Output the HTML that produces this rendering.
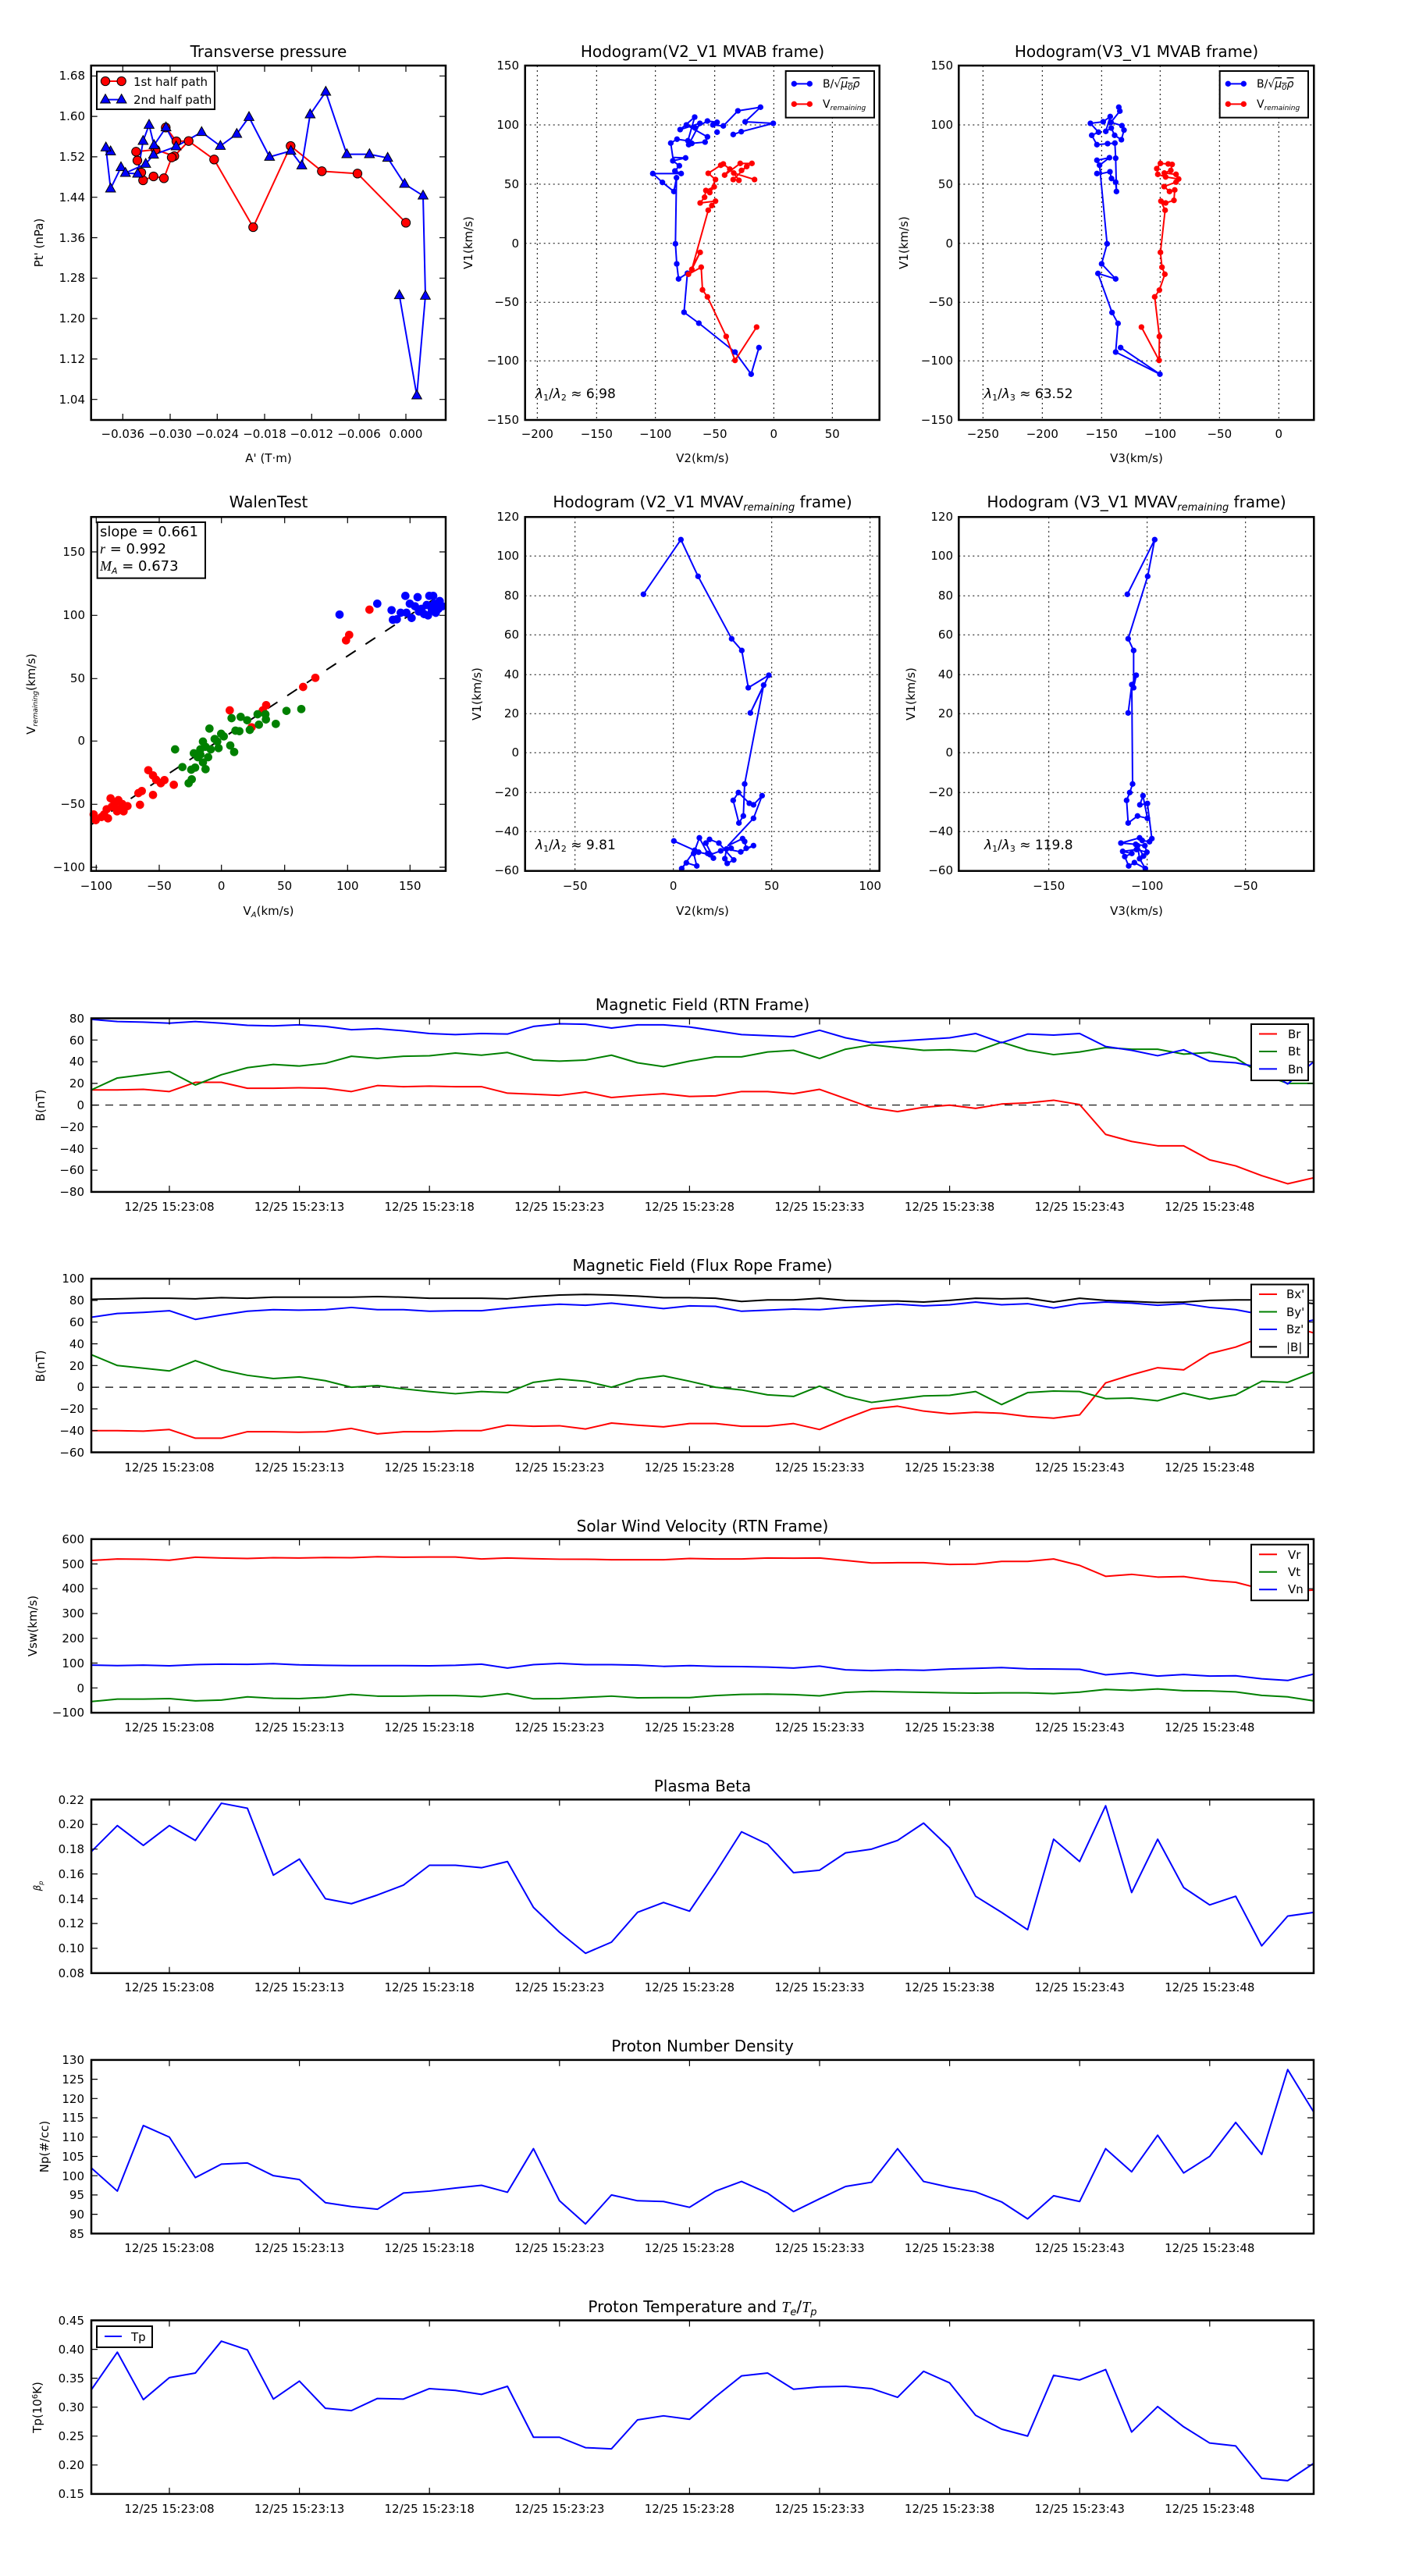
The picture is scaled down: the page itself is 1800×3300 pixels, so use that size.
<!DOCTYPE html>
<html><head><meta charset="utf-8"><style>
html,body{margin:0;padding:0;background:#fff}
svg{display:block}
text{font-family:"DejaVu Sans","Liberation Sans",sans-serif;fill:#000}
.t{font-size:20px;text-anchor:middle}
.k{font-size:15px}
.kx{font-size:15px;text-anchor:middle}
.ky{font-size:15px;text-anchor:end}
.l{font-size:15px;text-anchor:middle}
.ax{fill:none;stroke:#000;stroke-width:2.5}
.tk{fill:none;stroke:#000;stroke-width:1.2}
.gd{fill:none;stroke:#000;stroke-width:1;stroke-dasharray:2,4}
.s{fill:none;stroke-width:2;vector-effect:non-scaling-stroke;stroke-linejoin:round}
.z{fill:none;stroke-width:6;stroke-linejoin:round}
</style></head><body>
<svg width="1800" height="3300" viewBox="0 0 1800 3300" xmlns="http://www.w3.org/2000/svg">
<defs>
<path id="tri" d="M0,-21 L19,13 L-19,13Z" fill="#0000ff" stroke="#000" stroke-width="3"/>
</defs>
<rect width="1800" height="3300" fill="#fff"/>

<!-- ============ Panel 1: Transverse pressure ============ -->
<text class="t" x="344" y="73">Transverse pressure</text>
<g transform="translate(110,60) scale(0.33333)">
<polyline class="z" stroke="#ff0000" points="307,310 348,363 395,362 340,420 330,425 300,505 260,498 220,513 213,483 198,437 193,403 268,395 340,420"/>
<polyline class="z" stroke="#ff0000" points="395,362 493,433 643,693 787,381 907,478 1044,487 1230,676"/>
<polyline class="z" stroke="#0000ff" points="95,402 77,387 95,545 135,463 152,485 199,488 220,362 243,300 262,378 308,310 347,383 445,328 517,381 580,335 627,270 706,423 788,400 830,456 862,260 922,173 1003,413 1090,413 1160,427 1225,527 1296,572 1305,957 1272,1340 1205,955"/>
<polyline class="z" stroke="#0000ff" points="152,485 230,450 260,415 347,383"/>
<g fill="#ff0000" stroke="#000" stroke-width="3">
<circle cx="307" cy="310" r="17"/><circle cx="348" cy="363" r="17"/><circle cx="340" cy="420" r="17"/><circle cx="330" cy="425" r="17"/><circle cx="300" cy="505" r="17"/><circle cx="260" cy="498" r="17"/><circle cx="220" cy="513" r="17"/><circle cx="213" cy="483" r="17"/><circle cx="198" cy="437" r="17"/><circle cx="193" cy="403" r="17"/><circle cx="268" cy="395" r="17"/><circle cx="395" cy="362" r="17"/><circle cx="493" cy="433" r="17"/><circle cx="643" cy="693" r="17"/><circle cx="787" cy="381" r="17"/><circle cx="907" cy="478" r="17"/><circle cx="1044" cy="487" r="17"/><circle cx="1230" cy="676" r="17"/>
</g>
<use href="#tri" x="95" y="402"/><use href="#tri" x="77" y="387"/><use href="#tri" x="95" y="545"/><use href="#tri" x="135" y="463"/><use href="#tri" x="152" y="485"/><use href="#tri" x="199" y="488"/><use href="#tri" x="220" y="362"/><use href="#tri" x="243" y="300"/><use href="#tri" x="262" y="378"/><use href="#tri" x="308" y="310"/><use href="#tri" x="230" y="450"/><use href="#tri" x="260" y="415"/><use href="#tri" x="347" y="383"/><use href="#tri" x="445" y="328"/><use href="#tri" x="517" y="381"/><use href="#tri" x="580" y="335"/><use href="#tri" x="627" y="270"/><use href="#tri" x="706" y="423"/><use href="#tri" x="788" y="400"/><use href="#tri" x="830" y="456"/><use href="#tri" x="862" y="260"/><use href="#tri" x="922" y="173"/><use href="#tri" x="1003" y="413"/><use href="#tri" x="1090" y="413"/><use href="#tri" x="1160" y="427"/><use href="#tri" x="1225" y="527"/><use href="#tri" x="1296" y="572"/><use href="#tri" x="1305" y="957"/><use href="#tri" x="1272" y="1340"/><use href="#tri" x="1205" y="955"/>
<rect x="42" y="95" width="453" height="145" fill="#fff" stroke="#000" stroke-width="6"/>
<line x1="75" y1="132" x2="137" y2="132" stroke="#ff0000" stroke-width="6"/>
<circle cx="75" cy="132" r="17" fill="#ff0000" stroke="#000" stroke-width="3"/><circle cx="137" cy="132" r="17" fill="#ff0000" stroke="#000" stroke-width="3"/>
<line x1="75" y1="203" x2="137" y2="203" stroke="#0000ff" stroke-width="6"/>
<use href="#tri" x="75" y="203"/><use href="#tri" x="137" y="203"/>
</g>
<text x="171" y="110" style="font-size:15px">1st half path</text>
<text x="171" y="133" style="font-size:15px">2nd half path</text>
<rect class="ax" x="116.7" y="84" width="454.3" height="454"/>
<path class="tk" d="M157.3,538v-8M218,538v-8M278.3,538v-8M339,538v-8M399.3,538v-8M460,538v-8M520,538v-8M157.3,84v8M218,84v8M278.3,84v8M339,84v8M399.3,84v8M460,84v8M520,84v8M116.7,97.3h8M116.7,149.1h8M116.7,200.9h8M116.7,252.7h8M116.7,304.5h8M116.7,356.3h8M116.7,408.1h8M116.7,459.9h8M116.7,511.7h8M571,97.3h-8M571,149.1h-8M571,200.9h-8M571,252.7h-8M571,304.5h-8M571,356.3h-8M571,408.1h-8M571,459.9h-8M571,511.7h-8"/>
<g class="ky"><text class="ky" x="109" y="102">1.68</text><text class="ky" x="109" y="154">1.60</text><text class="ky" x="109" y="206">1.52</text><text class="ky" x="109" y="258">1.44</text><text class="ky" x="109" y="310">1.36</text><text class="ky" x="109" y="361">1.28</text><text class="ky" x="109" y="413">1.20</text><text class="ky" x="109" y="465">1.12</text><text class="ky" x="109" y="517">1.04</text></g>
<text class="kx" x="157.3" y="561">−0.036</text><text class="kx" x="218" y="561">−0.030</text><text class="kx" x="278.3" y="561">−0.024</text><text class="kx" x="339" y="561">−0.018</text><text class="kx" x="399.3" y="561">−0.012</text><text class="kx" x="460" y="561">−0.006</text><text class="kx" x="520" y="561">0.000</text>
<text class="l" x="344" y="592">A' (T·m)</text>
<text class="l" transform="translate(55,311) rotate(-90)">Pt' (nPa)</text>

<!-- ============ Panel 2: Hodogram V2_V1 MVAB ============ -->
<text class="t" x="900" y="73">Hodogram(V2_V1 MVAB frame)</text>
<path class="gd" d="M688.3,84V538M764.3,84V538M839.7,84V538M915.7,84V538M991.3,84V538M1066.3,84V538M672.7,160H1126.7M672.7,236H1126.7M672.7,311.7H1126.7M672.7,387.3H1126.7M672.7,462.3H1126.7"/>
<g transform="translate(660,60) scale(0.33333)">
<polyline class="z" stroke="#0000ff" points="937,1156 907,1258 845,1173 706,1062 649,1020 662,870 628,892 621,834 616,757 620,503 610,556 566,521 529,487 638,487 614,477 631,457 606,438 655,427 606,425 598,370 622,355 664,361 690,270 634,318 710,294 667,376 679,371 730,366 739,346 658,300 692,312 739,285 776,290 760,300 800,304 856,246 943,232 884,288 992,294 869,326 838,337"/>
<polyline class="z" stroke="#ff0000" points="928,1077 845,1205 811,1113 739,961 720,934 715,847 666,874 711,790 679,855 742,628 756,610 770,593 711,600 728,578 733,552 765,538 748,560 770,510 742,486 790,455 800,450 825,470 805,493 865,448 910,448 870,475 890,460 838,510 860,513 840,485 920,510"/>
<g fill="#0000ff"><circle cx="937" cy="1156" r="11"/><circle cx="907" cy="1258" r="11"/><circle cx="845" cy="1173" r="11"/><circle cx="706" cy="1062" r="11"/><circle cx="649" cy="1020" r="11"/><circle cx="662" cy="870" r="11"/><circle cx="628" cy="892" r="11"/><circle cx="621" cy="834" r="11"/><circle cx="616" cy="757" r="11"/><circle cx="620" cy="503" r="11"/><circle cx="610" cy="556" r="11"/><circle cx="566" cy="521" r="11"/><circle cx="529" cy="487" r="11"/><circle cx="638" cy="487" r="11"/><circle cx="614" cy="477" r="11"/><circle cx="631" cy="457" r="11"/><circle cx="606" cy="438" r="11"/><circle cx="655" cy="427" r="11"/><circle cx="598" cy="370" r="11"/><circle cx="622" cy="355" r="11"/><circle cx="664" cy="361" r="11"/><circle cx="690" cy="270" r="11"/><circle cx="634" cy="318" r="11"/><circle cx="710" cy="294" r="11"/><circle cx="667" cy="376" r="11"/><circle cx="679" cy="371" r="11"/><circle cx="730" cy="366" r="11"/><circle cx="739" cy="346" r="11"/><circle cx="658" cy="300" r="11"/><circle cx="692" cy="312" r="11"/><circle cx="739" cy="285" r="11"/><circle cx="776" cy="290" r="11"/><circle cx="760" cy="300" r="11"/><circle cx="800" cy="304" r="11"/><circle cx="856" cy="246" r="11"/><circle cx="943" cy="232" r="11"/><circle cx="884" cy="288" r="11"/><circle cx="992" cy="294" r="11"/><circle cx="869" cy="326" r="11"/><circle cx="838" cy="337" r="11"/><circle cx="776" cy="328" r="11"/></g>
<g fill="#ff0000"><circle cx="928" cy="1077" r="11"/><circle cx="845" cy="1205" r="11"/><circle cx="811" cy="1113" r="11"/><circle cx="739" cy="961" r="11"/><circle cx="720" cy="934" r="11"/><circle cx="715" cy="847" r="11"/><circle cx="666" cy="874" r="11"/><circle cx="711" cy="790" r="11"/><circle cx="679" cy="855" r="11"/><circle cx="742" cy="628" r="11"/><circle cx="756" cy="610" r="11"/><circle cx="770" cy="593" r="11"/><circle cx="711" cy="600" r="11"/><circle cx="728" cy="578" r="11"/><circle cx="733" cy="552" r="11"/><circle cx="765" cy="538" r="11"/><circle cx="748" cy="560" r="11"/><circle cx="770" cy="510" r="11"/><circle cx="742" cy="486" r="11"/><circle cx="790" cy="455" r="11"/><circle cx="800" cy="450" r="11"/><circle cx="825" cy="470" r="11"/><circle cx="805" cy="493" r="11"/><circle cx="865" cy="448" r="11"/><circle cx="910" cy="448" r="11"/><circle cx="870" cy="475" r="11"/><circle cx="890" cy="460" r="11"/><circle cx="838" cy="510" r="11"/><circle cx="860" cy="513" r="11"/><circle cx="840" cy="485" r="11"/><circle cx="920" cy="510" r="11"/></g>
<rect x="1040" y="93" width="340" height="179" fill="#fff" stroke="#000" stroke-width="6"/>
<line x1="1072" y1="142" x2="1132" y2="142" stroke="#0000ff" stroke-width="6"/><circle cx="1072" cy="142" r="11" fill="#0000ff"/><circle cx="1132" cy="142" r="11" fill="#0000ff"/>
<line x1="1072" y1="220" x2="1132" y2="220" stroke="#ff0000" stroke-width="6"/><circle cx="1072" cy="220" r="11" fill="#ff0000"/><circle cx="1132" cy="220" r="11" fill="#ff0000"/>
</g>
<text x="1054" y="112" style="font-size:14px">B/√<tspan font-style="italic" text-decoration="overline">μ<tspan font-size="10" dy="3">0</tspan><tspan dy="-3">ρ</tspan></tspan></text>
<text x="1054" y="138" style="font-size:14px">V<tspan font-size="9" font-style="italic" dy="3">remaining</tspan></text>
<text x="686" y="510" style="font-size:17px"><tspan font-style="italic">λ</tspan><tspan font-size="11" dy="3">1</tspan><tspan dy="-3">/</tspan><tspan font-style="italic">λ</tspan><tspan font-size="11" dy="3">2</tspan><tspan dy="-3"> ≈ 6.98</tspan></text>
<rect class="ax" x="672.7" y="84" width="454" height="454"/>
<g><text class="ky" x="665" y="89">150</text><text class="ky" x="665" y="165">100</text><text class="ky" x="665" y="241">50</text><text class="ky" x="665" y="317">0</text><text class="ky" x="665" y="392">−50</text><text class="ky" x="665" y="467">−100</text><text class="ky" x="665" y="543">−150</text></g>
<text class="kx" x="688.3" y="561">−200</text><text class="kx" x="764.3" y="561">−150</text><text class="kx" x="839.7" y="561">−100</text><text class="kx" x="915.7" y="561">−50</text><text class="kx" x="991.3" y="561">0</text><text class="kx" x="1066.3" y="561">50</text>
<text class="l" x="900" y="592">V2(km/s)</text>
<text class="l" transform="translate(605,311) rotate(-90)">V1(km/s)</text>

<!-- ============ Panel 3: Hodogram V3_V1 MVAB ============ -->
<text class="t" x="1456" y="73">Hodogram(V3_V1 MVAB frame)</text>
<path class="gd" d="M1259.3,84V538M1335.3,84V538M1411.3,84V538M1486.3,84V538M1562.3,84V538M1638.3,84V538M1228.3,160H1683.3M1228.3,236H1683.3M1228.3,311.7H1683.3M1228.3,387.3H1683.3M1228.3,462.3H1683.3"/>
<g transform="translate(1220,60) scale(0.33333)">
<polyline class="z" stroke="#0000ff" points="647,1156 798,1258 628,1173 637,1063 614,1021 560,871 628,892 574,834 595,757 566,455 604,426 556,436 574,487 606,480 612,506 628,520 631,556 628,428 625,370 597,372 556,376 536,340 562,328 531,294 580,288 607,268 590,325 611,312 624,340 650,357 660,320 652,303 610,290 644,247 640,232"/>
<polyline class="z" stroke="#ff0000" points="727,1077 795,1205 796,1113 778,961 796,935 817,874 806,847 800,790 818,628 802,593 820,600 852,590 855,550 835,556 814,537 860,520 870,508 820,500 790,490 786,468 800,448 830,450 845,452 840,475 815,485 860,490"/>
<g fill="#0000ff"><circle cx="647" cy="1156" r="11"/><circle cx="798" cy="1258" r="11"/><circle cx="628" cy="1173" r="11"/><circle cx="637" cy="1063" r="11"/><circle cx="614" cy="1021" r="11"/><circle cx="560" cy="871" r="11"/><circle cx="628" cy="892" r="11"/><circle cx="574" cy="834" r="11"/><circle cx="595" cy="757" r="11"/><circle cx="566" cy="455" r="11"/><circle cx="604" cy="426" r="11"/><circle cx="556" cy="436" r="11"/><circle cx="556" cy="487" r="11"/><circle cx="606" cy="480" r="11"/><circle cx="612" cy="506" r="11"/><circle cx="628" cy="520" r="11"/><circle cx="631" cy="556" r="11"/><circle cx="628" cy="428" r="11"/><circle cx="625" cy="370" r="11"/><circle cx="597" cy="372" r="11"/><circle cx="556" cy="376" r="11"/><circle cx="536" cy="340" r="11"/><circle cx="562" cy="328" r="11"/><circle cx="531" cy="294" r="11"/><circle cx="580" cy="288" r="11"/><circle cx="607" cy="268" r="11"/><circle cx="590" cy="325" r="11"/><circle cx="611" cy="312" r="11"/><circle cx="624" cy="340" r="11"/><circle cx="650" cy="357" r="11"/><circle cx="660" cy="320" r="11"/><circle cx="652" cy="303" r="11"/><circle cx="610" cy="290" r="11"/><circle cx="644" cy="247" r="11"/><circle cx="640" cy="232" r="11"/></g>
<g fill="#ff0000"><circle cx="727" cy="1077" r="11"/><circle cx="795" cy="1205" r="11"/><circle cx="796" cy="1113" r="11"/><circle cx="778" cy="961" r="11"/><circle cx="796" cy="935" r="11"/><circle cx="817" cy="874" r="11"/><circle cx="806" cy="847" r="11"/><circle cx="800" cy="790" r="11"/><circle cx="818" cy="628" r="11"/><circle cx="802" cy="593" r="11"/><circle cx="820" cy="600" r="11"/><circle cx="852" cy="590" r="11"/><circle cx="855" cy="550" r="11"/><circle cx="835" cy="556" r="11"/><circle cx="814" cy="537" r="11"/><circle cx="860" cy="520" r="11"/><circle cx="870" cy="508" r="11"/><circle cx="820" cy="500" r="11"/><circle cx="790" cy="490" r="11"/><circle cx="786" cy="468" r="11"/><circle cx="800" cy="448" r="11"/><circle cx="830" cy="450" r="11"/><circle cx="845" cy="452" r="11"/><circle cx="840" cy="475" r="11"/><circle cx="815" cy="485" r="11"/><circle cx="860" cy="490" r="11"/></g>
<rect x="1028" y="93" width="340" height="179" fill="#fff" stroke="#000" stroke-width="6"/>
<line x1="1060" y1="142" x2="1120" y2="142" stroke="#0000ff" stroke-width="6"/><circle cx="1060" cy="142" r="11" fill="#0000ff"/><circle cx="1120" cy="142" r="11" fill="#0000ff"/>
<line x1="1060" y1="220" x2="1120" y2="220" stroke="#ff0000" stroke-width="6"/><circle cx="1060" cy="220" r="11" fill="#ff0000"/><circle cx="1120" cy="220" r="11" fill="#ff0000"/>
</g>
<text x="1610" y="112" style="font-size:14px">B/√<tspan font-style="italic" text-decoration="overline">μ<tspan font-size="10" dy="3">0</tspan><tspan dy="-3">ρ</tspan></tspan></text>
<text x="1610" y="138" style="font-size:14px">V<tspan font-size="9" font-style="italic" dy="3">remaining</tspan></text>
<text x="1261" y="510" style="font-size:17px"><tspan font-style="italic">λ</tspan><tspan font-size="11" dy="3">1</tspan><tspan dy="-3">/</tspan><tspan font-style="italic">λ</tspan><tspan font-size="11" dy="3">3</tspan><tspan dy="-3"> ≈ 63.52</tspan></text>
<rect class="ax" x="1228.3" y="84" width="455" height="454"/>
<g><text class="ky" x="1221" y="89">150</text><text class="ky" x="1221" y="165">100</text><text class="ky" x="1221" y="241">50</text><text class="ky" x="1221" y="317">0</text><text class="ky" x="1221" y="392">−50</text><text class="ky" x="1221" y="467">−100</text><text class="ky" x="1221" y="543">−150</text></g>
<text class="kx" x="1259.3" y="561">−250</text><text class="kx" x="1335.3" y="561">−200</text><text class="kx" x="1411.3" y="561">−150</text><text class="kx" x="1486.3" y="561">−100</text><text class="kx" x="1562.3" y="561">−50</text><text class="kx" x="1638.3" y="561">0</text>
<text class="l" x="1456" y="592">V3(km/s)</text>
<text class="l" transform="translate(1163,311) rotate(-90)">V1(km/s)</text>

<!-- ============ Panel 4: WalenTest ============ -->
<text class="t" x="344" y="650">WalenTest</text>
<g transform="translate(110,650) scale(0.33333)">
<line x1="22" y1="1218" x2="1365" y2="335" stroke="#000" stroke-width="6" stroke-dasharray="45,45"/>
<g fill="#0000ff"><circle cx="975" cy="412" r="16"/><circle cx="1120" cy="370" r="16"/><circle cx="1175" cy="395" r="16"/><circle cx="1228" cy="340" r="16"/><circle cx="1245" cy="370" r="16"/><circle cx="1275" cy="345" r="16"/><circle cx="1210" cy="405" r="16"/><circle cx="1232" cy="405" r="16"/><circle cx="1180" cy="432" r="16"/><circle cx="1252" cy="425" r="16"/><circle cx="1265" cy="380" r="16"/><circle cx="1290" cy="390" r="16"/><circle cx="1300" cy="410" r="16"/><circle cx="1315" cy="415" r="16"/><circle cx="1320" cy="340" r="16"/><circle cx="1335" cy="340" r="16"/><circle cx="1345" cy="405" r="16"/><circle cx="1360" cy="360" r="16"/><circle cx="1370" cy="380" r="16"/><circle cx="1355" cy="390" r="16"/><circle cx="1330" cy="395" r="16"/><circle cx="1310" cy="375" r="16"/><circle cx="1280" cy="400" r="16"/><circle cx="1195" cy="430" r="16"/><circle cx="1325" cy="380" r="16"/><circle cx="1340" cy="370" r="16"/></g>
<g fill="#ff0000"><circle cx="1090" cy="393" r="16"/><circle cx="1000" cy="511" r="16"/><circle cx="1012" cy="490" r="16"/><circle cx="882" cy="655" r="16"/><circle cx="835" cy="690" r="16"/><circle cx="693" cy="760" r="16"/><circle cx="553" cy="780" r="16"/><circle cx="680" cy="780" r="16"/><circle cx="637" cy="845" r="16"/><circle cx="240" cy="1010" r="16"/><circle cx="258" cy="1030" r="16"/><circle cx="270" cy="1047" r="16"/><circle cx="288" cy="1060" r="16"/><circle cx="302" cy="1048" r="16"/><circle cx="338" cy="1066" r="16"/><circle cx="202" cy="1098" r="16"/><circle cx="215" cy="1090" r="16"/><circle cx="258" cy="1105" r="16"/><circle cx="208" cy="1143" r="16"/><circle cx="95" cy="1118" r="16"/><circle cx="125" cy="1125" r="16"/><circle cx="140" cy="1140" r="16"/><circle cx="160" cy="1148" r="16"/><circle cx="145" cy="1168" r="16"/><circle cx="120" cy="1168" r="16"/><circle cx="100" cy="1150" r="16"/><circle cx="80" cy="1160" r="16"/><circle cx="70" cy="1180" r="16"/><circle cx="85" cy="1195" r="16"/><circle cx="60" cy="1190" r="16"/><circle cx="30" cy="1180" r="16"/><circle cx="38" cy="1202" r="16"/><circle cx="110" cy="1140" r="16"/><circle cx="130" cy="1160" r="16"/></g>
<g fill="#008000"><circle cx="343" cy="930" r="16"/><circle cx="371" cy="998" r="16"/><circle cx="395" cy="1060" r="16"/><circle cx="407" cy="1045" r="16"/><circle cx="405" cy="1008" r="16"/><circle cx="420" cy="1000" r="16"/><circle cx="415" cy="945" r="16"/><circle cx="440" cy="930" r="16"/><circle cx="450" cy="900" r="16"/><circle cx="475" cy="850" r="16"/><circle cx="460" cy="1006" r="16"/><circle cx="450" cy="980" r="16"/><circle cx="430" cy="960" r="16"/><circle cx="470" cy="960" r="16"/><circle cx="480" cy="930" r="16"/><circle cx="495" cy="890" r="16"/><circle cx="510" cy="925" r="16"/><circle cx="520" cy="870" r="16"/><circle cx="530" cy="880" r="16"/><circle cx="555" cy="915" r="16"/><circle cx="570" cy="940" r="16"/><circle cx="560" cy="810" r="16"/><circle cx="595" cy="805" r="16"/><circle cx="620" cy="818" r="16"/><circle cx="575" cy="858" r="16"/><circle cx="590" cy="860" r="16"/><circle cx="630" cy="855" r="16"/><circle cx="660" cy="795" r="16"/><circle cx="665" cy="835" r="16"/><circle cx="690" cy="795" r="16"/><circle cx="692" cy="815" r="16"/><circle cx="730" cy="832" r="16"/><circle cx="771" cy="782" r="16"/><circle cx="828" cy="775" r="16"/><circle cx="505" cy="900" r="16"/><circle cx="440" cy="950" r="16"/><circle cx="460" cy="920" r="16"/></g>
<rect x="44" y="57" width="415" height="215" fill="#fff" stroke="#000" stroke-width="6"/>
</g>
<text x="128" y="687" style="font-size:18px">slope = 0.661</text>
<text x="128" y="709" style="font-size:18px"><tspan font-style="italic" font-family="Liberation Serif">r</tspan> = 0.992</text>
<text x="128" y="731" style="font-size:18px"><tspan font-style="italic" font-family="Liberation Serif">M</tspan><tspan font-size="11" font-style="italic" dy="4">A</tspan><tspan dy="-4"> = 0.673</tspan></text>
<rect class="ax" x="116.7" y="662.3" width="454.3" height="453.4"/>
<path class="tk" d="M123.3,1115.7v-8M204,1115.7v-8M283.7,1115.7v-8M364.7,1115.7v-8M445.3,1115.7v-8M525.3,1115.7v-8M123.3,662.3v8M204,662.3v8M283.7,662.3v8M364.7,662.3v8M445.3,662.3v8M525.3,662.3v8M116.7,707h8M116.7,788.3h8M116.7,869.3h8M116.7,949.3h8M116.7,1030.3h8M116.7,1111h8M571,707h-8M571,788.3h-8M571,869.3h-8M571,949.3h-8M571,1030.3h-8M571,1111h-8"/>
<text class="ky" x="109" y="712">150</text><text class="ky" x="109" y="793">100</text><text class="ky" x="109" y="874">50</text><text class="ky" x="109" y="954">0</text><text class="ky" x="109" y="1035">−50</text><text class="ky" x="109" y="1116">−100</text>
<text class="kx" x="123.3" y="1140">−100</text><text class="kx" x="204" y="1140">−50</text><text class="kx" x="283.7" y="1140">0</text><text class="kx" x="364.7" y="1140">50</text><text class="kx" x="445.3" y="1140">100</text><text class="kx" x="525.3" y="1140">150</text>
<text class="l" x="344" y="1172">V<tspan font-size="10" font-style="italic" dy="3">A</tspan><tspan dy="-3">(km/s)</tspan></text>
<text class="l" transform="translate(45,889) rotate(-90)">V<tspan font-size="9" font-style="italic" dy="3">remaining</tspan><tspan dy="-3">(km/s)</tspan></text>

<!-- ============ Panel 5: Hodogram V2 MVAV ============ -->
<text class="t" x="900" y="650">Hodogram (V2_V1 MVAV<tspan font-size="13" font-style="italic" dy="4">remaining</tspan><tspan dy="-4"> frame)</tspan></text>
<path class="gd" d="M736.7,662.3V1115.7M862.7,662.3V1115.7M988.7,662.3V1115.7M1114.7,662.3V1115.7M672.7,712.3H1126.7M672.7,763.3H1126.7M672.7,813.3H1126.7M672.7,864.3H1126.7M672.7,914.3H1126.7M672.7,964.3H1126.7M672.7,1015.3H1126.7M672.7,1065.3H1126.7"/>
<g transform="translate(660,650) scale(0.33333)">
<polyline class="z" stroke="#0000ff" points="493,334 637,124 703,265 832,505 871,550 896,693 975,645 904,790 955,683 882,1063 877,1186 860,1213 838,1126 858,1096 900,1137 916,1143 949,1108 916,1195 818,1300 874,1273 882,1284 888,1310 916,1300 867,1324 812,1313 806,1350 815,1368 840,1355 783,1290 747,1276 733,1290 762,1348 740,1330 708,1270 686,1330 698,1378 658,1366 640,1388 690,1318 610,1282 705,1325 750,1335 790,1320 830,1310"/>
<g fill="#0000ff"><circle cx="493" cy="334" r="11"/><circle cx="637" cy="124" r="11"/><circle cx="703" cy="265" r="11"/><circle cx="832" cy="505" r="11"/><circle cx="871" cy="550" r="11"/><circle cx="896" cy="693" r="11"/><circle cx="975" cy="645" r="11"/><circle cx="904" cy="790" r="11"/><circle cx="955" cy="683" r="11"/><circle cx="882" cy="1063" r="11"/><circle cx="877" cy="1186" r="11"/><circle cx="860" cy="1213" r="11"/><circle cx="838" cy="1126" r="11"/><circle cx="858" cy="1096" r="11"/><circle cx="900" cy="1137" r="11"/><circle cx="916" cy="1143" r="11"/><circle cx="949" cy="1108" r="11"/><circle cx="916" cy="1195" r="11"/><circle cx="874" cy="1273" r="11"/><circle cx="882" cy="1284" r="11"/><circle cx="888" cy="1310" r="11"/><circle cx="916" cy="1300" r="11"/><circle cx="867" cy="1324" r="11"/><circle cx="812" cy="1313" r="11"/><circle cx="806" cy="1350" r="11"/><circle cx="815" cy="1368" r="11"/><circle cx="840" cy="1355" r="11"/><circle cx="783" cy="1290" r="11"/><circle cx="747" cy="1276" r="11"/><circle cx="733" cy="1290" r="11"/><circle cx="762" cy="1348" r="11"/><circle cx="740" cy="1330" r="11"/><circle cx="708" cy="1270" r="11"/><circle cx="686" cy="1330" r="11"/><circle cx="698" cy="1378" r="11"/><circle cx="658" cy="1366" r="11"/><circle cx="640" cy="1388" r="11"/><circle cx="690" cy="1318" r="11"/><circle cx="610" cy="1282" r="11"/><circle cx="705" cy="1325" r="11"/><circle cx="750" cy="1335" r="11"/><circle cx="790" cy="1320" r="11"/><circle cx="830" cy="1310" r="11"/></g>
</g>
<text x="686" y="1088" style="font-size:17px"><tspan font-style="italic">λ</tspan><tspan font-size="11" dy="3">1</tspan><tspan dy="-3">/</tspan><tspan font-style="italic">λ</tspan><tspan font-size="11" dy="3">2</tspan><tspan dy="-3"> ≈ 9.81</tspan></text>
<rect class="ax" x="672.7" y="662.3" width="454" height="453.4"/>
<text class="ky" x="665" y="667">120</text><text class="ky" x="665" y="717">100</text><text class="ky" x="665" y="768">80</text><text class="ky" x="665" y="818">60</text><text class="ky" x="665" y="869">40</text><text class="ky" x="665" y="919">20</text><text class="ky" x="665" y="969">0</text><text class="ky" x="665" y="1020">−20</text><text class="ky" x="665" y="1070">−40</text><text class="ky" x="665" y="1120">−60</text>
<text class="kx" x="736.7" y="1140">−50</text><text class="kx" x="862.7" y="1140">0</text><text class="kx" x="988.7" y="1140">50</text><text class="kx" x="1114.7" y="1140">100</text>
<text class="l" x="900" y="1172">V2(km/s)</text>
<text class="l" transform="translate(616,889) rotate(-90)">V1(km/s)</text>

<!-- ============ Panel 6: Hodogram V3 MVAV ============ -->
<text class="t" x="1456" y="650">Hodogram (V3_V1 MVAV<tspan font-size="13" font-style="italic" dy="4">remaining</tspan><tspan dy="-4"> frame)</tspan></text>
<path class="gd" d="M1343.7,662.3V1115.7M1469.7,662.3V1115.7M1595.7,662.3V1115.7M1228.3,712.3H1683.3M1228.3,763.3H1683.3M1228.3,813.3H1683.3M1228.3,864.3H1683.3M1228.3,914.3H1683.3M1228.3,964.3H1683.3M1228.3,1015.3H1683.3M1228.3,1065.3H1683.3"/>
<g transform="translate(1220,650) scale(0.33333)">
<polyline class="z" stroke="#0000ff" points="673,334 778,124 751,265 676,505 697,550 697,693 707,645 690,681 676,790 690,681 693,1063 682,1096 670,1126 676,1213 712,1186 750,1195 733,1108 721,1143 750,1138 767,1273 758,1285 730,1280 720,1270 648,1290 705,1295 740,1300 748,1325 708,1315 655,1322 690,1330 663,1342 678,1378 700,1365 742,1388 720,1350 712,1300 735,1340"/>
<g fill="#0000ff"><circle cx="673" cy="334" r="11"/><circle cx="778" cy="124" r="11"/><circle cx="751" cy="265" r="11"/><circle cx="676" cy="505" r="11"/><circle cx="697" cy="550" r="11"/><circle cx="697" cy="693" r="11"/><circle cx="707" cy="645" r="11"/><circle cx="690" cy="681" r="11"/><circle cx="676" cy="790" r="11"/><circle cx="693" cy="1063" r="11"/><circle cx="682" cy="1096" r="11"/><circle cx="670" cy="1126" r="11"/><circle cx="676" cy="1213" r="11"/><circle cx="712" cy="1186" r="11"/><circle cx="750" cy="1195" r="11"/><circle cx="733" cy="1108" r="11"/><circle cx="721" cy="1143" r="11"/><circle cx="750" cy="1138" r="11"/><circle cx="767" cy="1273" r="11"/><circle cx="758" cy="1285" r="11"/><circle cx="730" cy="1280" r="11"/><circle cx="720" cy="1270" r="11"/><circle cx="648" cy="1290" r="11"/><circle cx="705" cy="1295" r="11"/><circle cx="740" cy="1300" r="11"/><circle cx="748" cy="1325" r="11"/><circle cx="708" cy="1315" r="11"/><circle cx="655" cy="1322" r="11"/><circle cx="690" cy="1330" r="11"/><circle cx="663" cy="1342" r="11"/><circle cx="678" cy="1378" r="11"/><circle cx="700" cy="1365" r="11"/><circle cx="742" cy="1388" r="11"/><circle cx="720" cy="1350" r="11"/><circle cx="712" cy="1300" r="11"/><circle cx="735" cy="1340" r="11"/></g>
</g>
<text x="1261" y="1088" style="font-size:17px"><tspan font-style="italic">λ</tspan><tspan font-size="11" dy="3">1</tspan><tspan dy="-3">/</tspan><tspan font-style="italic">λ</tspan><tspan font-size="11" dy="3">3</tspan><tspan dy="-3"> ≈ 119.8</tspan></text>
<rect class="ax" x="1228.3" y="662.3" width="455" height="453.4"/>
<text class="ky" x="1221" y="667">120</text><text class="ky" x="1221" y="717">100</text><text class="ky" x="1221" y="768">80</text><text class="ky" x="1221" y="818">60</text><text class="ky" x="1221" y="869">40</text><text class="ky" x="1221" y="919">20</text><text class="ky" x="1221" y="969">0</text><text class="ky" x="1221" y="1020">−20</text><text class="ky" x="1221" y="1070">−40</text><text class="ky" x="1221" y="1120">−60</text>
<text class="kx" x="1343.7" y="1140">−150</text><text class="kx" x="1469.7" y="1140">−100</text><text class="kx" x="1595.7" y="1140">−50</text>
<text class="l" x="1456" y="1172">V3(km/s)</text>
<text class="l" transform="translate(1172,889) rotate(-90)">V1(km/s)</text>

<!-- ============ Time series: Magnetic Field RTN ============ -->
<text class="t" x="900" y="1294">Magnetic Field (RTN Frame)</text>
<line x1="117" y1="1415.7" x2="1683" y2="1415.7" stroke="#000" stroke-width="1.2" stroke-dasharray="10,8"/>
<g transform="translate(117,1526.9) scale(33.32,-1.39) translate(0,80)">
<polyline class="s" stroke="#ff0000" points="0,14 1,14 2,14.5 3,12.5 4,21 5,21 6,15.5 7,15.5 8,16 9,15.5 10,12.5 11,18 12,17 13,17.5 14,17 15,17 16,11 17,10 18,9 19,12 20,7 21,9 22,10.5 23,8 24,8.5 25,12.5 26,12.5 27,10.5 28,14.5 29,6 30,-2.5 31,-6 32,-2 33,0 34,-3 35,1 36,2 37,4.5 38,0.5 39,-27 40,-33.5 41,-37.5 42,-37.5 43,-50.5 44,-56 45,-65 46,-72.5 47,-67"/>
<polyline class="s" stroke="#008000" points="0,14 1,25 2,28 3,31 4,18.5 5,28 6,34.5 7,37.5 8,36 9,38.5 10,45 11,43 12,45 13,45.5 14,48 15,46 16,48.5 17,41.5 18,40.5 19,41.5 20,46 21,39 22,35.5 23,40.5 24,44.5 25,44.5 26,49 27,50.5 28,43 29,51.5 30,55.5 31,53 32,50.5 33,51 34,49.5 35,58 36,50.5 37,46.5 38,49 39,53 40,51.5 41,51.5 42,47 43,48.5 44,43.5 45,28.5 46,20 47,20"/>
<polyline class="s" stroke="#0000ff" points="0,79 1,77 2,76.5 3,75.5 4,77 5,75.5 6,73.5 7,73 8,74 9,72.5 10,69.5 11,70.5 12,68.5 13,66 14,65 15,66 16,65.5 17,72.5 18,75 19,74.5 20,71 21,74 22,74 23,72 24,68.5 25,65 26,64 27,63 28,69 29,62 30,57.5 31,59 32,60.5 33,62 34,66 35,57.5 36,65.5 37,64.5 38,66 39,54 40,50.5 41,45.5 42,51 43,40.5 44,39 45,34.5 46,19.5 47,40"/>
</g>
<rect class="ax" x="117" y="1304.5" width="1566" height="222.4"/>
<path class="tk" d="M217,1526.9v-8M383.6,1526.9v-8M550.2,1526.9v-8M716.8,1526.9v-8M883.4,1526.9v-8M1050,1526.9v-8M1216.6,1526.9v-8M1383.2,1526.9v-8M1549.8,1526.9v-8M217,1304.5v8M383.6,1304.5v8M550.2,1304.5v8M716.8,1304.5v8M883.4,1304.5v8M1050,1304.5v8M1216.6,1304.5v8M1383.2,1304.5v8M1549.8,1304.5v8M117,1332.3h8M117,1360.1h8M117,1387.9h8M117,1415.7h8M117,1443.5h8M117,1471.3h8M117,1499.1h8M1683,1332.3h-8M1683,1360.1h-8M1683,1387.9h-8M1683,1415.7h-8M1683,1443.5h-8M1683,1471.3h-8M1683,1499.1h-8"/>
<text class="ky" x="108" y="1310">80</text><text class="ky" x="108" y="1338">60</text><text class="ky" x="108" y="1365">40</text><text class="ky" x="108" y="1393">20</text><text class="ky" x="108" y="1421">0</text><text class="ky" x="108" y="1449">−20</text><text class="ky" x="108" y="1477">−40</text><text class="ky" x="108" y="1504">−60</text><text class="ky" x="108" y="1532">−80</text>
<g><text class="kx" x="217" y="1551">12/25 15:23:08</text><text class="kx" x="383.6" y="1551">12/25 15:23:13</text><text class="kx" x="550.2" y="1551">12/25 15:23:18</text><text class="kx" x="716.8" y="1551">12/25 15:23:23</text><text class="kx" x="883.4" y="1551">12/25 15:23:28</text><text class="kx" x="1050" y="1551">12/25 15:23:33</text><text class="kx" x="1216.6" y="1551">12/25 15:23:38</text><text class="kx" x="1383.2" y="1551">12/25 15:23:43</text><text class="kx" x="1549.8" y="1551">12/25 15:23:48</text></g>
<text class="l" transform="translate(57,1416) rotate(-90)">B(nT)</text>
<rect x="1603" y="1312" width="73" height="72" fill="#fff" stroke="#000" stroke-width="2"/>
<path d="M1613,1324.5h23" stroke="#ff0000" stroke-width="2"/><path d="M1613,1347h23" stroke="#008000" stroke-width="2"/><path d="M1613,1369.4h23" stroke="#0000ff" stroke-width="2"/>
<text class="k" x="1650" y="1330">Br</text><text class="k" x="1650" y="1352">Bt</text><text class="k" x="1650" y="1375">Bn</text>

<!-- ============ Magnetic Field Flux Rope ============ -->
<text class="t" x="900" y="1628">Magnetic Field (Flux Rope Frame)</text>
<line x1="117" y1="1777.1" x2="1683" y2="1777.1" stroke="#000" stroke-width="1.2" stroke-dasharray="10,8"/>
<g transform="translate(117,1860.5) scale(33.32,-1.39) translate(0,60)">
<polyline class="s" stroke="#ff0000" points="0,-40 1,-40 2,-40.5 3,-39 4,-47 5,-47 6,-41 7,-41 8,-41.5 9,-41 10,-38 11,-43 12,-41 13,-41 14,-40 15,-40 16,-35 17,-36 18,-35.5 19,-38.5 20,-33 21,-35 22,-36.5 23,-33.5 24,-33.5 25,-36 26,-36 27,-33.5 28,-39 29,-29 30,-20 31,-17.5 32,-22 33,-24.5 34,-23 35,-24 36,-27 37,-28.5 38,-25.5 39,4 40,11.5 41,18 42,16 43,31 44,37 45,46 46,57 47,50"/>
<polyline class="s" stroke="#008000" points="0,30 1,20 2,17.5 3,15 4,24.5 5,16 6,11 7,8 8,9.5 9,6 10,0 11,1.5 12,-1.5 13,-4 14,-6 15,-4 16,-5 17,4.5 18,7.5 19,5.5 20,0 21,7.5 22,10.5 23,5.5 24,0 25,-2.5 26,-7 27,-8.5 28,1 29,-8.5 30,-14 31,-11 32,-8 33,-7.5 34,-4 35,-16 36,-5 37,-3.5 38,-4 39,-10.5 40,-10 41,-12.5 42,-5.5 43,-11 44,-7 45,5.5 46,4.5 47,14"/>
<polyline class="s" stroke="#0000ff" points="0,64.5 1,68 2,69 3,70.5 4,62.5 5,66.5 6,70 7,71.5 8,71 9,71.5 10,73.5 11,71.5 12,71.5 13,70 14,70.5 15,70.5 16,73 17,75 18,76.5 19,75.5 20,77.5 21,75 22,72.5 23,75 24,74.5 25,70 26,71 27,72 28,71.5 29,73.5 30,75 31,76.5 32,75 33,76 34,78.5 35,76 36,77 37,73 38,77 39,78.5 40,77.5 41,75.5 42,77 43,73.5 44,71.5 45,67 46,57 47,62"/>
<polyline class="s" stroke="#000000" points="0,81 1,81.5 2,82 3,82 4,81.5 5,82.5 6,82 7,83 8,83 9,83 10,83 11,83.5 12,83 13,82 14,82 15,82 16,81.5 17,83.5 18,85 19,85.5 20,85 21,84 22,82.5 23,82.5 24,82 25,79 26,80.5 27,80.5 28,82 29,80 30,79.5 31,79.5 32,78.5 33,80 34,82 35,81.5 36,82 37,78.5 38,82 39,80 40,79 41,78 42,78.5 43,80 44,80.5 45,80.5 46,80 47,77"/>
</g>
<rect class="ax" x="117" y="1638.1" width="1566" height="222.4"/>
<path class="tk" d="M217,1860.5v-8M383.6,1860.5v-8M550.2,1860.5v-8M716.8,1860.5v-8M883.4,1860.5v-8M1050,1860.5v-8M1216.6,1860.5v-8M1383.2,1860.5v-8M1549.8,1860.5v-8M217,1638.1v8M383.6,1638.1v8M550.2,1638.1v8M716.8,1638.1v8M883.4,1638.1v8M1050,1638.1v8M1216.6,1638.1v8M1383.2,1638.1v8M1549.8,1638.1v8M117,1665.9h8M117,1693.7h8M117,1721.5h8M117,1749.3h8M117,1777.1h8M117,1804.9h8M117,1832.7h8M1683,1665.9h-8M1683,1693.7h-8M1683,1721.5h-8M1683,1749.3h-8M1683,1777.1h-8M1683,1804.9h-8M1683,1832.7h-8"/>
<text class="ky" x="108" y="1643">100</text><text class="ky" x="108" y="1671">80</text><text class="ky" x="108" y="1699">60</text><text class="ky" x="108" y="1727">40</text><text class="ky" x="108" y="1755">20</text><text class="ky" x="108" y="1782">0</text><text class="ky" x="108" y="1810">−20</text><text class="ky" x="108" y="1838">−40</text><text class="ky" x="108" y="1866">−60</text>
<g><text class="kx" x="217" y="1885">12/25 15:23:08</text><text class="kx" x="383.6" y="1885">12/25 15:23:13</text><text class="kx" x="550.2" y="1885">12/25 15:23:18</text><text class="kx" x="716.8" y="1885">12/25 15:23:23</text><text class="kx" x="883.4" y="1885">12/25 15:23:28</text><text class="kx" x="1050" y="1885">12/25 15:23:33</text><text class="kx" x="1216.6" y="1885">12/25 15:23:38</text><text class="kx" x="1383.2" y="1885">12/25 15:23:43</text><text class="kx" x="1549.8" y="1885">12/25 15:23:48</text></g>
<text class="l" transform="translate(57,1750) rotate(-90)">B(nT)</text>
<rect x="1603" y="1645.5" width="73" height="93" fill="#fff" stroke="#000" stroke-width="2"/>
<path d="M1613,1658h23" stroke="#ff0000" stroke-width="2"/><path d="M1613,1680.5h23" stroke="#008000" stroke-width="2"/><path d="M1613,1703h23" stroke="#0000ff" stroke-width="2"/><path d="M1613,1725.4h23" stroke="#000" stroke-width="2"/>
<text class="k" x="1648" y="1663">Bx'</text><text class="k" x="1648" y="1686">By'</text><text class="k" x="1648" y="1708">Bz'</text><text class="k" x="1648" y="1731">|B|</text>

<!-- ============ Solar Wind Velocity ============ -->
<text class="t" x="900" y="1962">Solar Wind Velocity (RTN Frame)</text>
<g transform="translate(117,2194.1) scale(33.32,-0.31771) translate(0,100)">
<polyline class="s" stroke="#ff0000" points="0,514 1,520 2,519 3,515 4,527 5,524 6,522 7,525 8,524 9,526 10,525 11,529 12,527 13,528 14,528 15,520 16,524 17,521 18,519 19,519 20,517 21,517 22,517 23,522 24,520 25,520 26,524 27,523 28,524 29,514 30,504 31,505 32,505 33,498 34,499 35,510 36,510 37,520 38,494 39,450 40,458 41,447 42,449 43,434 44,426 45,399 46,388 47,395"/>
<polyline class="s" stroke="#008000" points="0,-55 1,-45 2,-45 3,-43 4,-52 5,-49 6,-36 7,-42 8,-43 9,-38 10,-26 11,-33 12,-33 13,-31 14,-31 15,-35 16,-23 17,-44 18,-43 19,-38 20,-33 21,-40 22,-39 23,-39 24,-31 25,-26 26,-25 27,-27 28,-32 29,-18 30,-14 31,-16 32,-18 33,-20 34,-21 35,-20 36,-20 37,-23 38,-17 39,-6 40,-10 41,-4 42,-11 43,-12 44,-16 45,-30 46,-36 47,-52"/>
<polyline class="s" stroke="#0000ff" points="0,92 1,90 2,92 3,89 4,94 5,96 6,95 7,98 8,93 9,91 10,90 11,90 12,90 13,89 14,91 15,96 16,80 17,94 18,99 19,94 20,94 21,92 22,87 23,90 24,87 25,86 26,84 27,80 28,88 29,73 30,70 31,73 32,71 33,76 34,79 35,82 36,77 37,76 38,75 39,53 40,61 41,48 42,54 43,48 44,49 45,37 46,30 47,56"/>
</g>
<rect class="ax" x="117" y="1971.7" width="1566" height="222.4"/>
<path class="tk" d="M217,2194.1v-8M383.6,2194.1v-8M550.2,2194.1v-8M716.8,2194.1v-8M883.4,2194.1v-8M1050,2194.1v-8M1216.6,2194.1v-8M1383.2,2194.1v-8M1549.8,2194.1v-8M217,1971.7v8M383.6,1971.7v8M550.2,1971.7v8M716.8,1971.7v8M883.4,1971.7v8M1050,1971.7v8M1216.6,1971.7v8M1383.2,1971.7v8M1549.8,1971.7v8M117,2003.5h8M117,2035.2h8M117,2067h8M117,2098.8h8M117,2130.5h8M117,2162.3h8M1683,2003.5h-8M1683,2035.2h-8M1683,2067h-8M1683,2098.8h-8M1683,2130.5h-8M1683,2162.3h-8"/>
<text class="ky" x="108" y="1977">600</text><text class="ky" x="108" y="2009">500</text><text class="ky" x="108" y="2040">400</text><text class="ky" x="108" y="2072">300</text><text class="ky" x="108" y="2104">200</text><text class="ky" x="108" y="2136">100</text><text class="ky" x="108" y="2168">0</text><text class="ky" x="108" y="2199">−100</text>
<g><text class="kx" x="217" y="2218">12/25 15:23:08</text><text class="kx" x="383.6" y="2218">12/25 15:23:13</text><text class="kx" x="550.2" y="2218">12/25 15:23:18</text><text class="kx" x="716.8" y="2218">12/25 15:23:23</text><text class="kx" x="883.4" y="2218">12/25 15:23:28</text><text class="kx" x="1050" y="2218">12/25 15:23:33</text><text class="kx" x="1216.6" y="2218">12/25 15:23:38</text><text class="kx" x="1383.2" y="2218">12/25 15:23:43</text><text class="kx" x="1549.8" y="2218">12/25 15:23:48</text></g>
<text class="l" transform="translate(47,2083) rotate(-90)">Vsw(km/s)</text>
<rect x="1603" y="1978.7" width="73" height="71.5" fill="#fff" stroke="#000" stroke-width="2"/>
<path d="M1613,1991.3h23" stroke="#ff0000" stroke-width="2"/><path d="M1613,2013.7h23" stroke="#008000" stroke-width="2"/><path d="M1613,2036.2h23" stroke="#0000ff" stroke-width="2"/>
<text class="k" x="1650" y="1997">Vr</text><text class="k" x="1650" y="2019">Vt</text><text class="k" x="1650" y="2041">Vn</text>

<!-- ============ Plasma Beta ============ -->
<text class="t" x="900" y="2295">Plasma Beta</text>
<g transform="translate(117,2527.7) scale(33.32,-1588.57) translate(0,-0.08)">
<polyline class="s" stroke="#0000ff" points="0,0.178 1,0.199 2,0.183 3,0.199 4,0.187 5,0.217 6,0.213 7,0.159 8,0.172 9,0.140 10,0.136 11,0.143 12,0.151 13,0.167 14,0.167 15,0.165 16,0.170 17,0.133 18,0.113 19,0.096 20,0.105 21,0.129 22,0.137 23,0.130 24,0.161 25,0.194 26,0.184 27,0.161 28,0.163 29,0.177 30,0.180 31,0.187 32,0.201 33,0.181 34,0.142 35,0.129 36,0.115 37,0.188 38,0.170 39,0.215 40,0.145 41,0.188 42,0.149 43,0.135 44,0.142 45,0.102 46,0.126 47,0.129"/>
</g>
<rect class="ax" x="117" y="2305.3" width="1566" height="222.4"/>
<path class="tk" d="M217,2527.7v-8M383.6,2527.7v-8M550.2,2527.7v-8M716.8,2527.7v-8M883.4,2527.7v-8M1050,2527.7v-8M1216.6,2527.7v-8M1383.2,2527.7v-8M1549.8,2527.7v-8M217,2305.3v8M383.6,2305.3v8M550.2,2305.3v8M716.8,2305.3v8M883.4,2305.3v8M1050,2305.3v8M1216.6,2305.3v8M1383.2,2305.3v8M1549.8,2305.3v8M117,2337.1h8M117,2368.8h8M117,2400.6h8M117,2432.4h8M117,2464.1h8M117,2495.9h8M1683,2337.1h-8M1683,2368.8h-8M1683,2400.6h-8M1683,2432.4h-8M1683,2464.1h-8M1683,2495.9h-8"/>
<text class="ky" x="108" y="2311">0.22</text><text class="ky" x="108" y="2342">0.20</text><text class="ky" x="108" y="2374">0.18</text><text class="ky" x="108" y="2406">0.16</text><text class="ky" x="108" y="2438">0.14</text><text class="ky" x="108" y="2469">0.12</text><text class="ky" x="108" y="2501">0.10</text><text class="ky" x="108" y="2533">0.08</text>
<g><text class="kx" x="217" y="2551">12/25 15:23:08</text><text class="kx" x="383.6" y="2551">12/25 15:23:13</text><text class="kx" x="550.2" y="2551">12/25 15:23:18</text><text class="kx" x="716.8" y="2551">12/25 15:23:23</text><text class="kx" x="883.4" y="2551">12/25 15:23:28</text><text class="kx" x="1050" y="2551">12/25 15:23:33</text><text class="kx" x="1216.6" y="2551">12/25 15:23:38</text><text class="kx" x="1383.2" y="2551">12/25 15:23:43</text><text class="kx" x="1549.8" y="2551">12/25 15:23:48</text></g>
<text class="l" transform="translate(52,2416) rotate(-90)" style="font-size:12px;font-style:italic">β<tspan font-size="8" dy="3">p</tspan></text>

<!-- ============ Proton Number Density ============ -->
<text class="t" x="900" y="2628">Proton Number Density</text>
<g transform="translate(117,2861.3) scale(33.32,-4.9422) translate(0,-85)">
<polyline class="s" stroke="#0000ff" points="0,102 1,96 2,113 3,110 4,99.5 5,103 6,103.3 7,100 8,99 9,93 10,92 11,91.3 12,95.5 13,96 14,96.8 15,97.5 16,95.7 17,107 18,93.5 19,87.5 20,95 21,93.5 22,93.3 23,91.8 24,96 25,98.5 26,95.5 27,90.7 28,94 29,97.2 30,98.3 31,107 32,98.5 33,97 34,95.8 35,93.2 36,88.8 37,94.8 38,93.3 39,107 40,101 41,110.5 42,100.7 43,105 44,113.8 45,105.5 46,127.5 47,116.5"/>
</g>
<rect class="ax" x="117" y="2638.9" width="1566" height="222.4"/>
<path class="tk" d="M217,2861.3v-8M383.6,2861.3v-8M550.2,2861.3v-8M716.8,2861.3v-8M883.4,2861.3v-8M1050,2861.3v-8M1216.6,2861.3v-8M1383.2,2861.3v-8M1549.8,2861.3v-8M217,2638.9v8M383.6,2638.9v8M550.2,2638.9v8M716.8,2638.9v8M883.4,2638.9v8M1050,2638.9v8M1216.6,2638.9v8M1383.2,2638.9v8M1549.8,2638.9v8M117,2663.6h8M117,2688.3h8M117,2713h8M117,2737.7h8M117,2762.5h8M117,2787.2h8M117,2811.9h8M117,2836.6h8M1683,2663.6h-8M1683,2688.3h-8M1683,2713h-8M1683,2737.7h-8M1683,2762.5h-8M1683,2787.2h-8M1683,2811.9h-8M1683,2836.6h-8"/>
<text class="ky" x="108" y="2644">130</text><text class="ky" x="108" y="2669">125</text><text class="ky" x="108" y="2694">120</text><text class="ky" x="108" y="2718">115</text><text class="ky" x="108" y="2743">110</text><text class="ky" x="108" y="2768">105</text><text class="ky" x="108" y="2793">100</text><text class="ky" x="108" y="2817">95</text><text class="ky" x="108" y="2842">90</text><text class="ky" x="108" y="2867">85</text>
<g><text class="kx" x="217" y="2885">12/25 15:23:08</text><text class="kx" x="383.6" y="2885">12/25 15:23:13</text><text class="kx" x="550.2" y="2885">12/25 15:23:18</text><text class="kx" x="716.8" y="2885">12/25 15:23:23</text><text class="kx" x="883.4" y="2885">12/25 15:23:28</text><text class="kx" x="1050" y="2885">12/25 15:23:33</text><text class="kx" x="1216.6" y="2885">12/25 15:23:38</text><text class="kx" x="1383.2" y="2885">12/25 15:23:43</text><text class="kx" x="1549.8" y="2885">12/25 15:23:48</text></g>
<text class="l" transform="translate(62,2750) rotate(-90)">Np(#/cc)</text>

<!-- ============ Proton Temperature ============ -->
<text class="t" x="900" y="2962">Proton Temperature and <tspan font-style="italic" font-family="Liberation Serif">T</tspan><tspan font-size="13" font-style="italic" dy="4">e</tspan><tspan dy="-4">/</tspan><tspan font-style="italic" font-family="Liberation Serif">T</tspan><tspan font-size="13" font-style="italic" dy="4">p</tspan></text>
<g transform="translate(117,3194.9) scale(33.32,-741.33) translate(0,-0.15)">
<polyline class="s" stroke="#0000ff" points="0,0.330 1,0.395 2,0.313 3,0.351 4,0.359 5,0.414 6,0.399 7,0.314 8,0.345 9,0.298 10,0.294 11,0.315 12,0.314 13,0.332 14,0.329 15,0.322 16,0.336 17,0.248 18,0.248 19,0.230 20,0.228 21,0.278 22,0.285 23,0.279 24,0.318 25,0.354 26,0.359 27,0.331 28,0.335 29,0.336 30,0.332 31,0.317 32,0.362 33,0.342 34,0.286 35,0.262 36,0.250 37,0.355 38,0.347 39,0.365 40,0.257 41,0.301 42,0.266 43,0.238 44,0.233 45,0.177 46,0.173 47,0.203"/>
</g>
<rect class="ax" x="117" y="2972.5" width="1566" height="222.4"/>
<path class="tk" d="M217,3194.9v-8M383.6,3194.9v-8M550.2,3194.9v-8M716.8,3194.9v-8M883.4,3194.9v-8M1050,3194.9v-8M1216.6,3194.9v-8M1383.2,3194.9v-8M1549.8,3194.9v-8M217,2972.5v8M383.6,2972.5v8M550.2,2972.5v8M716.8,2972.5v8M883.4,2972.5v8M1050,2972.5v8M1216.6,2972.5v8M1383.2,2972.5v8M1549.8,2972.5v8M117,3009.6h8M117,3046.6h8M117,3083.7h8M117,3120.8h8M117,3157.8h8M1683,3009.6h-8M1683,3046.6h-8M1683,3083.7h-8M1683,3120.8h-8M1683,3157.8h-8"/>
<text class="ky" x="108" y="2978">0.45</text><text class="ky" x="108" y="3015">0.40</text><text class="ky" x="108" y="3052">0.35</text><text class="ky" x="108" y="3089">0.30</text><text class="ky" x="108" y="3126">0.25</text><text class="ky" x="108" y="3163">0.20</text><text class="ky" x="108" y="3200">0.15</text>
<g><text class="kx" x="217" y="3219">12/25 15:23:08</text><text class="kx" x="383.6" y="3219">12/25 15:23:13</text><text class="kx" x="550.2" y="3219">12/25 15:23:18</text><text class="kx" x="716.8" y="3219">12/25 15:23:23</text><text class="kx" x="883.4" y="3219">12/25 15:23:28</text><text class="kx" x="1050" y="3219">12/25 15:23:33</text><text class="kx" x="1216.6" y="3219">12/25 15:23:38</text><text class="kx" x="1383.2" y="3219">12/25 15:23:43</text><text class="kx" x="1549.8" y="3219">12/25 15:23:48</text></g>
<text class="l" transform="translate(53,3084) rotate(-90)">Tp(10<tspan font-size="10" dy="-5">6</tspan><tspan dy="5">K)</tspan></text>
<rect x="124" y="2980" width="71" height="27" fill="#fff" stroke="#000" stroke-width="2"/>
<path d="M134,2993h22" stroke="#0000ff" stroke-width="2"/>
<text class="k" x="168" y="2999">Tp</text>
</svg>
</body></html>
